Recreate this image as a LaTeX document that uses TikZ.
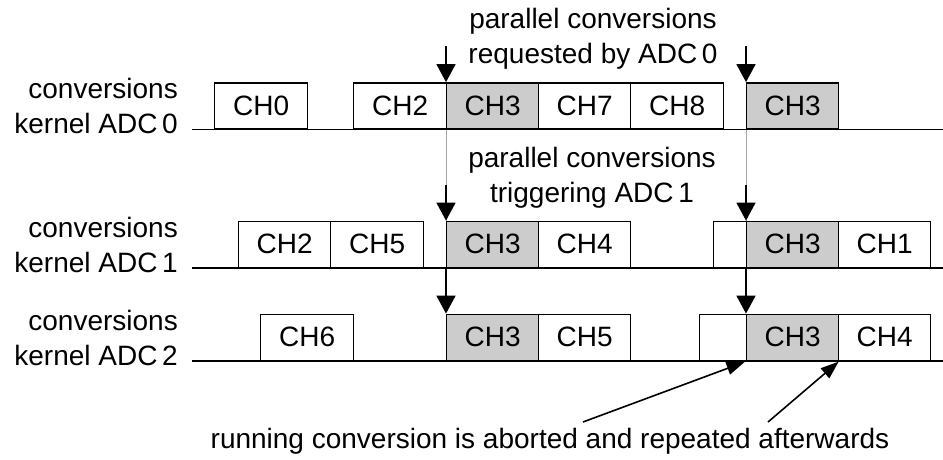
\documentclass[tikz,border=0pt]{standalone}
\usepackage{fontspec}
\setmainfont{Liberation Sans}
\usetikzlibrary{arrows.meta,calc}
\begin{document}
\begin{tikzpicture}[x=1pt,y=-1pt,
  every node/.style={font=\fontsize{28}{35}\selectfont},
  conv/.style={draw,line width=1.4pt,inner sep=0pt,minimum height=46pt,anchor=south west},
  hot/.style={conv,fill=black!20},
  lbl/.style={anchor=base east,inner sep=0pt},
  txtline/.style={anchor=base,inner sep=0pt},
  timeline/.style={line width=1.4pt},
  trig/.style={line width=1.6pt,-{Triangle[length=18pt,width=19pt]}},
  guide/.style={line width=0.9pt,black!35},
  note/.style={line width=1.6pt,-{Triangle[length=18pt,width=13pt]}}]
\useasboundingbox (0,0) rectangle (943,459);

% time axes of the three conversion kernels
\coordinate (l0) at (192,129.5); \coordinate (r0) at (943,129.5);
\coordinate (l1) at (192,268);   \coordinate (r1) at (943,268);
\coordinate (l2) at (192,361);   \coordinate (r2) at (943,361);
\draw[timeline] (l0) -- (r0);
\draw[timeline] (l1) -- (r1);
\draw[timeline] (l2) -- (r2);

% kernel labels
\node[lbl] (k0a) at (178,98.5) {conversions};
\node[lbl] (k0b) at (178,133.5) {kernel ADC\,0};
\node[lbl] (k1a) at (178,237) {conversions};
\node[lbl] (k1b) at (178,272) {kernel ADC\,1};
\node[lbl] (k2a) at (178,330) {conversions};
\node[lbl] (k2b) at (178,365) {kernel ADC\,2};

% ADC0 conversions
\node[conv,minimum width=93pt] (a0) at (214,129.5) {CH0};
\node[conv,minimum width=93pt] (a1) at (353,129.5) {CH2};
\node[hot, minimum width=92pt] (a2) at (446,129.5) {CH3};
\node[conv,minimum width=92pt] (a3) at (538,129.5) {CH7};
\node[conv,minimum width=93pt] (a4) at (630,129.5) {CH8};
\node[hot, minimum width=92pt] (a5) at (746,129.5) {CH3};

% ADC1 conversions
\node[conv,minimum width=92pt] (b1) at (238,268) {CH2};
\node[conv,minimum width=93pt] (b2) at (330,268) {CH5};
\node[hot, minimum width=92pt] (b3) at (446,268) {CH3};
\node[conv,minimum width=92pt] (b4) at (538,268) {CH4};
\node[conv,minimum width=33pt] (b5) at (713,268) {};
\node[hot, minimum width=92pt] (b6) at (746,268) {CH3};
\node[conv,minimum width=92pt] (b7) at (838,268) {CH1};

% ADC2 conversions
\node[conv,minimum width=93pt] (c1) at (260,361) {CH6};
\node[hot, minimum width=92pt] (c2) at (446,361) {CH3};
\node[conv,minimum width=92pt] (c3) at (538,361) {CH5};
\node[conv,minimum width=47pt] (c4) at (699,361) {};
\node[hot, minimum width=92pt] (c5) at (746,361) {CH3};
\node[conv,minimum width=92pt] (c6) at (838,361) {CH4};

% requests and triggers
\coordinate (t1) at (446,46);  \coordinate (t2) at (746,46);
\coordinate (m1) at (446,185); \coordinate (m2) at (746,185);
\draw[guide] (a2.south west) -- (b3.north west);
\draw[guide] (a5.south west) -- (b6.north west);
\draw[trig] (t1) -- (a2.north west);
\draw[trig] (t2) -- (a5.north west);
\draw[trig] (m1) -- (b3.north west);
\draw[trig] (m2) -- (b6.north west);
\draw[trig] (b3.south west) -- (c2.north west);
\draw[trig] (b6.south west) -- (c5.north west);

\node[txtline] (p1) at (593,28) {parallel conversions};
\node[txtline] (p2) at (593,63) {requested by ADC\,0};
\node[txtline] (q1) at (592,167) {parallel conversions};
\node[txtline] (q2) at (592,202) {triggering ADC\,1};

% aborted conversions
\node[txtline] (ab) at (550,448) {running conversion is aborted and repeated afterwards};
\coordinate (s1) at (583,422); \coordinate (s2) at (768,422);
\draw[note,shorten >=3pt] (s1) -- (c4.south east);
\draw[note,shorten >=1pt] (s2) -- (c5.south east);
\end{tikzpicture}
\end{document}
